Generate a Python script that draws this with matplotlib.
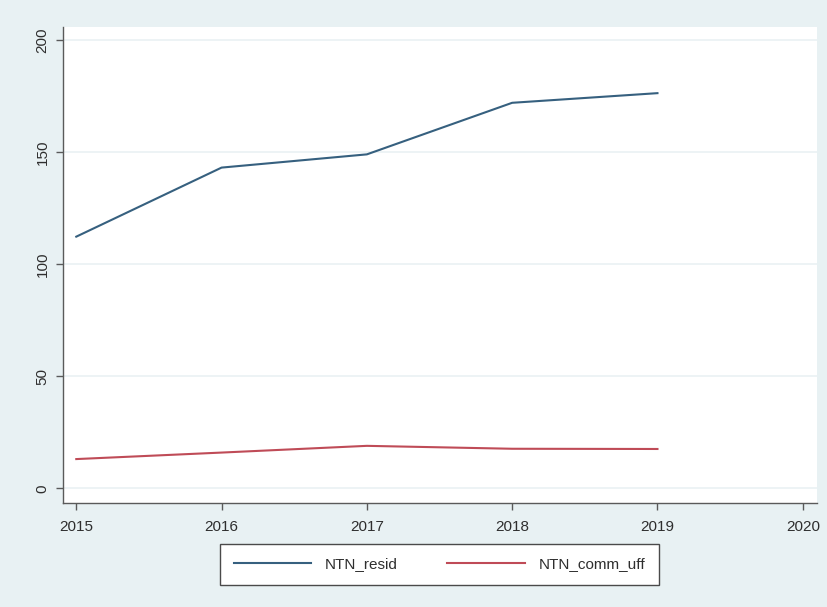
import matplotlib
matplotlib.use("Agg")
import matplotlib.pyplot as plt

# Yearly series
years = [2015, 2016, 2017, 2018, 2019]
ntn_resid = [112.3, 143.1, 149.0, 172.0, 176.3]
ntn_comm_uff = [13.1, 16.0, 19.0, 17.7, 17.6]

x_ticks = [2015, 2016, 2017, 2018, 2019, 2020]
y_ticks = [0, 50, 100, 150, 200]

series_labels = ["NTN_resid", "NTN_comm_uff"]

plt.rcParams["font.family"] = ["Liberation Sans", "DejaVu Sans"]

bg = "#e8f1f3"
axis_col = "#5a5a5a"
text_col = "#2e2e2e"

fig = plt.figure(figsize=(8.27, 6.07), dpi=100, facecolor=bg)
ax = fig.add_axes([0.0765, 0.1713, 0.98755 - 0.0765, 0.9555 - 0.1713])
ax.set_facecolor("white")

ax.plot(years, ntn_resid, color="#36607f", lw=1.5, label=series_labels[0],
        solid_joinstyle="round", zorder=3)
ax.plot(years, ntn_comm_uff, color="#bf4b57", lw=1.5, label=series_labels[1],
        solid_joinstyle="round", zorder=3)

ax.set_xlim(2014.9105, 2020.096)
ax.set_ylim(-6.5, 205.8)
ax.set_xticks(x_ticks)
ax.set_yticks(y_ticks)
ax.set_xticklabels([str(v) for v in x_ticks])
ax.set_yticklabels([str(v) for v in y_ticks], rotation=90, va="center")

ax.grid(axis="y", color="#edf3f5", lw=1.4, zorder=0)
ax.grid(axis="x", visible=False)

for side in ("top", "right"):
    ax.spines[side].set_visible(False)
for side in ("left", "bottom"):
    ax.spines[side].set_color(axis_col)
    ax.spines[side].set_linewidth(1.0)

ax.tick_params(axis="both", length=5, width=1.0, color=axis_col,
               labelsize=11, labelcolor=text_col)
ax.tick_params(axis="x", pad=7)
ax.tick_params(axis="y", pad=5)

leg = fig.legend(loc="center", bbox_to_anchor=(439.5 / 827, (607 - 564.5) / 607),
                 ncol=2, fontsize=11, frameon=True, fancybox=False,
                 handlelength=5.1, handletextpad=0.9, columnspacing=3.2,
                 borderpad=0.9, labelcolor=text_col)
frame = leg.get_frame()
frame.set_facecolor("white")
frame.set_edgecolor("#4a4a4a")
frame.set_linewidth(1.0)
frame.set_alpha(1.0)

fig.savefig("out.png", dpi=100, facecolor=bg)
